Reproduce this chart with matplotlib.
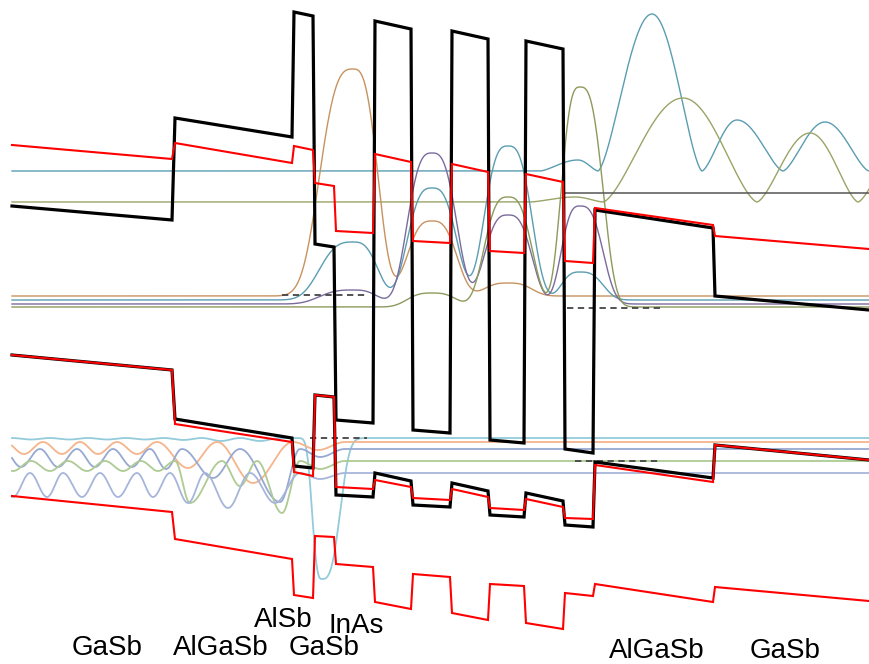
import numpy as np
import matplotlib
matplotlib.use("Agg")
import matplotlib.pyplot as plt

# ---------------------------------------------------------------------------
# Layer stack: left / right edge of every layer along the growth direction
# GaSb | AlGaSb | AlSb | GaSb | InAs | AlSb | InAs | AlSb | InAs | AlSb | InAs | AlGaSb | GaSb
layer_x0 = [12, 175, 294, 315, 336, 375, 413, 452, 490, 526, 565, 595, 715]
layer_x1 = [172, 292, 313, 334, 373, 411, 450, 488, 524, 563, 593, 713, 869]

# Band edges at the left and right edge of each layer (plot units, axis points down)
cb_l = [206, 118, 12, 244, 420, 21, 430, 31, 440, 41, 449, 210, 296]
cb_r = [220, 137, 16, 247, 423, 29, 433, 39, 443, 49, 453, 228, 310]
vb_l = [355, 419, 466, 395, 495, 473, 505, 483, 515, 493, 525, 462, 445]
vb_r = [370, 438, 468, 397, 497, 481, 507, 491, 517, 501, 527, 478, 460]
red_top_l = [145, 143, 146, 183, 231, 154, 241, 164, 251, 174, 261, 208, 236]
red_top_r = [159, 163, 150, 186, 233, 162, 243, 172, 253, 182, 263, 225, 249]
red_mid_l = [355, 424, 472, 395, 487, 480, 498, 489, 508, 499, 518, 465, 445]
red_mid_r = [370, 442, 476, 397, 489, 487, 500, 497, 510, 507, 519, 482, 460]
red_low_l = [496, 539, 595, 536, 564, 602, 574, 613, 584, 623, 593, 584, 587]
red_low_r = [512, 559, 598, 537, 567, 609, 577, 620, 586, 629, 596, 602, 601]

# Electron states: level and peak height in each of the four InAs wells
well_c = [353, 432, 508, 580]
well_wl = [39, 29, 28, 22]
well_wr = [29, 29, 28, 27]
e_levels = [296, 300, 304, 307]
e_amps = [
    [227, 75, 13, 0],
    [58, 112, 154, 28],
    [14, 151, 89, 98],
    [0, 14, 110, 220],
]
e_colors = ["#c8925f", "#5a9db2", "#7b6b9d", "#8c9a5c"]

# Extended states above the barriers: level, nodes, maxima, heights
ext_levels = [171, 202]
ext_nodes = [[540, 598, 702, 783, 869], [530, 603, 757, 858, 950]]
ext_peaks = [[578, 652, 737, 825], [575, 683, 810, 905]]
ext_amps = [[11, 157, 51, 49], [5, 104, 69, 60]]
ext_colors = ["#5a9db2", "#9aa467"]

# Hole states: level, nodes, maxima, depths
h_levels = [438, 442, 449, 461, 473]
h_nodes = [
    [12, 50, 88, 126, 164, 202, 240, 280],
    [5, 43, 80, 117, 157, 217, 293, 345],
    [3, 40, 77, 113, 150, 182, 240, 300, 345],
    [-6, 31, 68, 105, 141, 175, 222, 257, 300, 345],
    [-4, 30, 63, 100, 137, 170, 205, 250, 300, 345],
]
h_peaks = [
    [31, 69, 107, 145, 183, 221, 260],
    [24, 62, 98, 137, 188, 253, 318],
    [21, 58, 95, 132, 166, 213, 280, 320],
    [13, 50, 87, 123, 158, 190, 240, 282, 320],
    [13, 47, 82, 118, 153, 188, 228, 275, 320],
]
h_amps = [
    [1.5, 1.5, 1.5, 1.5, 2, 3, 3],
    [12, 12, 12, 12, 26, 41, 8],
    [18, 18, 18, 18, 20, 29, 53, 8],
    [10, 10, 10, 10, 10, 42, 25, 52, 8],
    [24, 24, 24, 24, 24, 30, 35, 30, 6],
]
h_colors = ["#93cbdb", "#f4b48c", "#97a9d2", "#adcb93", "#a6b5da"]
# state confined in the thin GaSb layer
h_dip_c, h_dip_wl, h_dip_wr, h_dip_amp = 322, 11.5, 21, 141

# Quasi-Fermi levels: x start, x end, level
ef_x0 = [282, 567, 310, 575]
ef_x1 = [368, 663, 367, 660]
ef_y = [295, 308, 438, 461]

# Right-hand reference level
ref_x0, ref_x1, ref_y = 563, 869, 193

labels = ["GaSb", "AlGaSb", "AlSb", "InAs", "GaSb", "AlGaSb", "GaSb"]
label_x = [107, 221, 283, 356, 324, 657, 785]
label_y = [655, 655, 627, 633, 655, 658, 658]


def band_path(x0, x1, left, right):
    xs, ys = [], []
    for a, b, l, r in zip(x0, x1, left, right):
        xs += [a, b]
        ys += [l, r]
    return xs, ys


def lobes(x, nodes, peaks, amps, q=1.5):
    y = np.zeros_like(x)
    for a, p, b, h in zip(nodes[:-1], peaks, nodes[1:], amps):
        m = (x >= a) & (x <= p)
        y[m] = h * np.sin(np.pi / 2 * (x[m] - a) / (p - a)) ** q
        m = (x > p) & (x <= b)
        y[m] = h * np.sin(np.pi / 2 * (b - x[m]) / (b - p)) ** q
    return y


def bumps(x, centers, wl, wr, amps, p=3):
    y = np.zeros_like(x)
    for c, a, b, h in zip(centers, wl, wr, amps):
        w = np.where(x < c, a, b)
        y += h * np.exp(-np.abs((x - c) / w) ** p)
    return y


fig = plt.figure(figsize=(8.69, 6.64), dpi=100)
ax = fig.add_axes([0, 0, 1, 1])
ax.set_xlim(0, 869)
ax.set_ylim(664, 0)
ax.axis("off")

x = np.linspace(12, 869, 3000)

# hole states
for lvl, nodes, peaks, amps, col in zip(h_levels, h_nodes, h_peaks, h_amps, h_colors):
    y = lvl + lobes(x, nodes, peaks, amps, q=2)
    if lvl == h_levels[0]:
        y = y + bumps(x, [h_dip_c], [h_dip_wl], [h_dip_wr], [h_dip_amp], p=3)
    ax.plot(x, y, color=col, lw=1.3, zorder=2)

# extended electron states
for lvl, nodes, peaks, amps, col in zip(ext_levels, ext_nodes, ext_peaks, ext_amps, ext_colors):
    ax.plot(x, lvl - lobes(x, nodes, peaks, amps, q=1.5), color=col, lw=1.0, zorder=2)

# confined electron states
for lvl, amps, col in zip(e_levels, e_amps, e_colors):
    ax.plot(x, lvl - bumps(x, well_c, well_wl, well_wr, amps), color=col, lw=1.0, zorder=3)

ax.plot([ref_x0, ref_x1], [ref_y, ref_y], color="#555555", lw=1.1, zorder=3)

for a, b, yy in zip(ef_x0, ef_x1, ef_y):
    ax.plot([a, b], [yy, yy], color="#444444", lw=1.3, ls=(0, (3.5, 2.5)), zorder=4)

# band edges
for left, right in [(cb_l, cb_r), (vb_l, vb_r)]:
    xs, ys = band_path(layer_x0, layer_x1, left, right)
    ax.plot(xs, ys, color="black", lw=2.3, solid_joinstyle="miter", zorder=5)
for left, right in [(red_top_l, red_top_r), (red_mid_l, red_mid_r), (red_low_l, red_low_r)]:
    xs, ys = band_path(layer_x0, layer_x1, left, right)
    ax.plot(xs, ys, color="#ff0000", lw=1.5, solid_joinstyle="miter", zorder=6)

for t, tx, ty in zip(labels, label_x, label_y):
    ax.text(tx, ty, t, ha="center", va="baseline", fontsize=20,
            family="Liberation Sans", color="black")

fig.savefig("out.png", dpi=100)
